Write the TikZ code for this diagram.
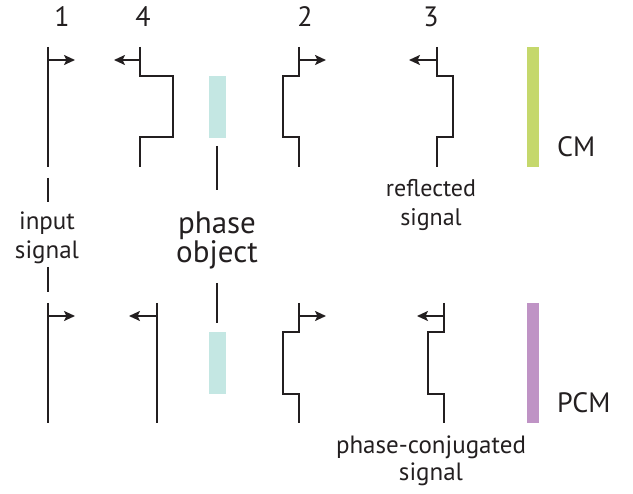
\documentclass[tikz,border=0pt]{standalone}
\usepackage{fontspec}
\setmainfont{PT Sans}
\usetikzlibrary{arrows.meta}
\definecolor{ink}{HTML}{231F20}
\definecolor{phasecol}{HTML}{C4E7E3}
\definecolor{cmcol}{HTML}{C5D86C}
\definecolor{pcmcol}{HTML}{BF93C5}
\begin{document}
\begin{tikzpicture}[x=1pt,y=-1pt,
  wave/.style={draw=ink, line width=2.7pt},
  arr/.style={draw=ink, line width=2.7pt, -{Stealth[length=11pt,width=10pt,inset=2.5pt]}},
  lead/.style={draw=ink, line width=1.3pt},
  num/.style={font=\fontsize{28}{30}\selectfont, text=ink, inner sep=0pt, anchor=base},
  lbl/.style={text=ink, inner sep=0pt, align=center, anchor=base},
  mirror/.style={anchor=base west, font=\fontsize{28}{30}\selectfont, text=ink, inner sep=0pt}]
\useasboundingbox (0,0) rectangle (633,494);
% numbers
\node[num] (n1) at (62,27) {1};
\node[num] (n4) at (143,27) {4};
\node[num] (n2) at (305,27) {2};
\node[num] (n3) at (431,27) {3};
% ---------- top row (CM) ----------
\draw[wave] (48,47) -- (48,167);
\coordinate (t1a) at (48,60); \coordinate (t1b) at (75,60);
\draw[arr] (t1a) -- (t1b);
\draw[wave] (140,47) -- (140,76) -- (173,76) -- (173,137) -- (140,137) -- (140,167);
\coordinate (t4a) at (140,60); \coordinate (t4b) at (114,60);
\draw[arr] (t4a) -- (t4b);
\fill[phasecol] (209,76) rectangle (226,138);
\draw[wave] (299,47) -- (299,76) -- (283,76) -- (283,137) -- (299,137) -- (299,167);
\coordinate (t2a) at (299,60); \coordinate (t2b) at (326,60);
\draw[arr] (t2a) -- (t2b);
\draw[wave] (437,47) -- (437,76) -- (453,76) -- (453,137) -- (437,137) -- (437,167);
\coordinate (t3a) at (437,60); \coordinate (t3b) at (409,60);
\draw[arr] (t3a) -- (t3b);
\fill[cmcol] (527,47) rectangle (539,167);
\node[mirror] (cm) at (557,157) {CM};
% ---------- labels between rows ----------
\node[lbl, font=\fontsize{25}{29}\selectfont] (inp) at (47,259) {input\\signal};
\draw[lead] (48,178) -- (48,202);
\draw[lead] (48,267) -- (48,292);
\node[lbl, font=\fontsize{31}{29}\selectfont] (po) at (217,263) {phase\\object};
\draw[lead] (217,146) -- (217,190);
\draw[lead] (217,283) -- (217,323);
\node[lbl, font=\fontsize{24}{29}\selectfont] (refl) at (431,226) {reflected\\signal};
% ---------- bottom row (PCM) ----------
\draw[wave] (48,303) -- (48,423);
\coordinate (b1a) at (48,316); \coordinate (b1b) at (75,316);
\draw[arr] (b1a) -- (b1b);
\draw[wave] (157,303) -- (157,423);
\coordinate (b4a) at (157,316); \coordinate (b4b) at (129,316);
\draw[arr] (b4a) -- (b4b);
\fill[phasecol] (209,332) rectangle (226,394);
\draw[wave] (299,303) -- (299,332) -- (283,332) -- (283,394) -- (299,394) -- (299,423);
\coordinate (b2a) at (299,316); \coordinate (b2b) at (326,316);
\draw[arr] (b2a) -- (b2b);
\draw[wave] (444,303) -- (444,332) -- (428,332) -- (428,394) -- (444,394) -- (444,423);
\coordinate (b3a) at (444,316); \coordinate (b3b) at (417,316);
\draw[arr] (b3a) -- (b3b);
\fill[pcmcol] (527,303) rectangle (539,423);
\node[mirror] (pcm) at (557,413) {PCM};
\node[lbl, font=\fontsize{25}{27}\selectfont] (pcs) at (431,481) {phase-conjugated\\signal};
\end{tikzpicture}
\end{document}
